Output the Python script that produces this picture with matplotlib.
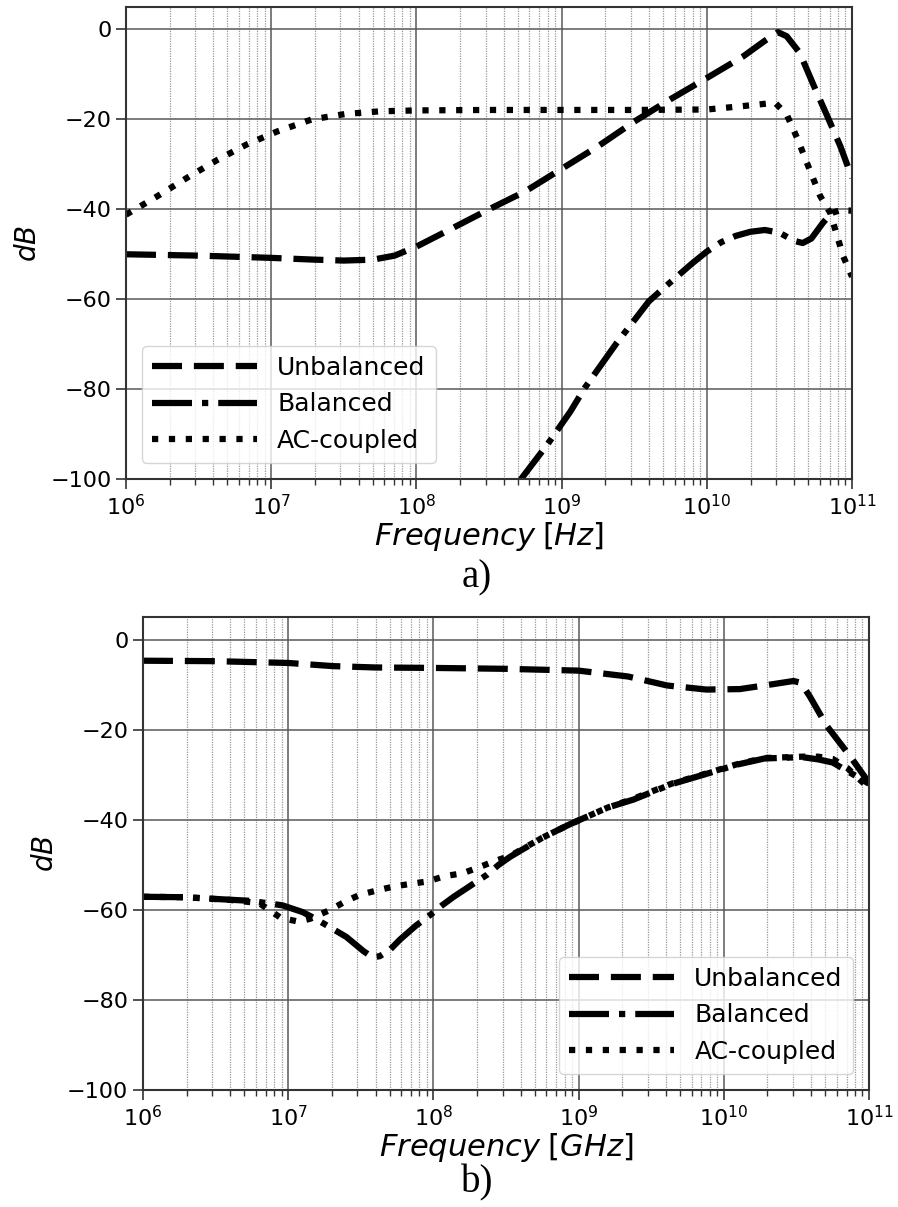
import numpy as np
import matplotlib
matplotlib.use('Agg')
import matplotlib.pyplot as plt

# values, frequency given as log10(f)
# panel a)
a_unbal_logf = [6.0, 6.5, 7.0, 7.3, 7.5, 7.7, 7.85, 8.0, 8.2, 8.5, 8.75, 9.0, 9.25,
                9.5, 9.75, 10.0, 10.25, 10.4, 10.49, 10.55, 10.64, 10.75, 10.83, 10.92, 11.0]
a_unbal_db = [-50.0, -50.3, -50.8, -51.2, -51.4, -51.2, -50.3, -48.3, -45.0, -40.0, -36.0,
              -31.0, -26.0, -20.5, -15.5, -10.8, -6.0, -2.5, -0.6, -1.5, -5.2, -13.5,
              -19.3, -26.0, -33.0]

a_bal_logf = [8.70, 8.73, 8.90, 9.06, 9.16, 9.38, 9.5, 9.6, 9.7, 9.8, 9.9, 10.0, 10.1,
              10.2, 10.3, 10.4, 10.5, 10.6, 10.66, 10.72, 10.8, 10.86, 10.92, 11.0]
a_bal_db = [-101.0, -99.6, -92.4, -85.0, -79.7, -69.7, -64.7, -60.5, -57.6, -54.8, -52.0,
            -49.4, -47.3, -45.9, -45.0, -44.6, -45.2, -47.0, -47.5, -46.5, -43.0, -40.8,
            -40.2, -40.3]

a_ac_logf = [6.0, 6.21, 6.42, 6.63, 6.83, 7.04, 7.28, 7.51, 7.75, 8.0, 8.5, 9.0, 9.5,
             10.0, 10.23, 10.47, 10.55, 10.62, 10.69, 10.78, 10.85, 10.94, 11.0]
a_ac_db = [-41.2, -37.2, -33.0, -29.0, -25.6, -22.7, -20.0, -18.8, -18.2, -18.0, -17.9,
           -17.9, -17.9, -17.8, -17.1, -16.3, -18.9, -24.0, -29.7, -37.0, -40.8, -50.5, -55.0]

# panel b)
b_unbal_logf = [6.0, 6.5, 7.0, 7.31, 7.6, 8.0, 8.5, 9.0, 9.34, 9.61, 9.88, 10.11,
                10.34, 10.48, 10.53, 10.59, 10.71, 10.87, 11.0]
b_unbal_db = [-4.7, -4.8, -5.2, -5.9, -6.2, -6.3, -6.5, -6.9, -8.2, -10.2, -11.1, -11.0,
              -9.9, -9.2, -9.6, -12.5, -19.2, -25.9, -31.8]

b_bal_logf = [6.0, 6.28, 6.51, 6.74, 6.96, 7.1, 7.2, 7.4, 7.52, 7.58, 7.63, 7.7, 7.77,
              7.88, 7.98, 8.06, 8.14, 8.37, 8.45, 8.53, 8.75, 8.94, 9.2, 9.38, 9.64,
              9.83, 10.1, 10.28, 10.54, 10.65, 10.75, 11.0]
b_bal_db = [-57.1, -57.2, -57.6, -58.0, -59.0, -60.5, -62.2, -66.0, -69.2, -70.5, -70.3,
            -68.9, -66.6, -63.5, -61.1, -59.0, -57.1, -52.2, -50.0, -48.2, -44.0, -41.0,
            -37.3, -35.5, -32.1, -30.3, -27.7, -26.4, -26.1, -26.6, -27.3, -32.0]

b_ac_logf = [6.0, 6.3, 6.6, 6.8, 6.95, 7.07, 7.15, 7.29, 7.39, 7.49, 7.61, 7.73, 7.85,
             7.96, 8.08, 8.2, 8.31, 8.42, 8.53, 8.75, 8.94, 9.2, 9.38, 9.64, 9.83,
             10.1, 10.28, 10.54, 10.65, 10.75, 10.85, 11.0]
b_ac_db = [-57.1, -57.2, -57.8, -58.5, -61.8, -62.6, -62.0, -60.0, -58.2, -56.7, -55.7,
           -54.8, -54.2, -53.7, -52.5, -51.9, -50.6, -49.2, -48.0, -44.0, -41.0, -37.3,
           -35.3, -32.0, -30.2, -27.6, -26.3, -26.0, -26.0, -26.5, -28.5, -33.0]

labels = ['Unbalanced', 'Balanced', 'AC-coupled']
dash_styles = [(0, (4.8, 1.9)), (0, (6.4, 1.6, 1.0, 1.6)), (0, (1.0, 1.7))]

fig = plt.figure(figsize=(8.98, 12.07), dpi=100)
ax_a = fig.add_axes([0.1403, 0.6031, 0.8085, 0.3911])
ax_b = fig.add_axes([0.1592, 0.0969, 0.8085, 0.3919])

panels = [
    (ax_a, [(a_unbal_logf, a_unbal_db), (a_bal_logf, a_bal_db), (a_ac_logf, a_ac_db)],
     r'$Frequency\;[Hz]$', 'lower left'),
    (ax_b, [(b_unbal_logf, b_unbal_db), (b_bal_logf, b_bal_db), (b_ac_logf, b_ac_db)],
     r'$Frequency\;[GHz]$', 'lower right'),
]

for ax, series, xlab, loc in panels:
    for (lf, db), lab, ls in zip(series, labels, dash_styles):
        ax.plot(10 ** np.array(lf), db, color='black', lw=4.5, ls=ls, label=lab)
    ax.set_xscale('log')
    ax.set_xlim(1e6, 1e11)
    ax.set_ylim(-100, 5)
    ax.set_yticks([0, -20, -40, -60, -80, -100])
    ax.grid(True, which='major', color='0.35', lw=1.1)
    ax.grid(True, which='minor', axis='x', color='0.6', lw=0.9, ls=(0, (1, 1)))
    ax.tick_params(labelsize=16, width=1.2, length=7, color='0.2')
    ax.tick_params(which='minor', width=1.0, length=4, color='0.2')
    for s in ax.spines.values():
        s.set_linewidth(1.5)
        s.set_color('0.2')
    ax.set_xlabel(xlab, fontsize=22, labelpad=1)
    ax.set_ylabel(r'$dB$', fontsize=20, labelpad=6)
    ax.legend(loc=loc, fontsize=18, handlelength=4.2, borderaxespad=0.65)

fig.text(0.531, 0.521, 'a)', fontsize=28, family='Liberation Serif', ha='center', va='center')
fig.text(0.531, 0.020, 'b)', fontsize=28, family='Liberation Serif', ha='center', va='center')

plt.savefig('out.png', dpi=100)
